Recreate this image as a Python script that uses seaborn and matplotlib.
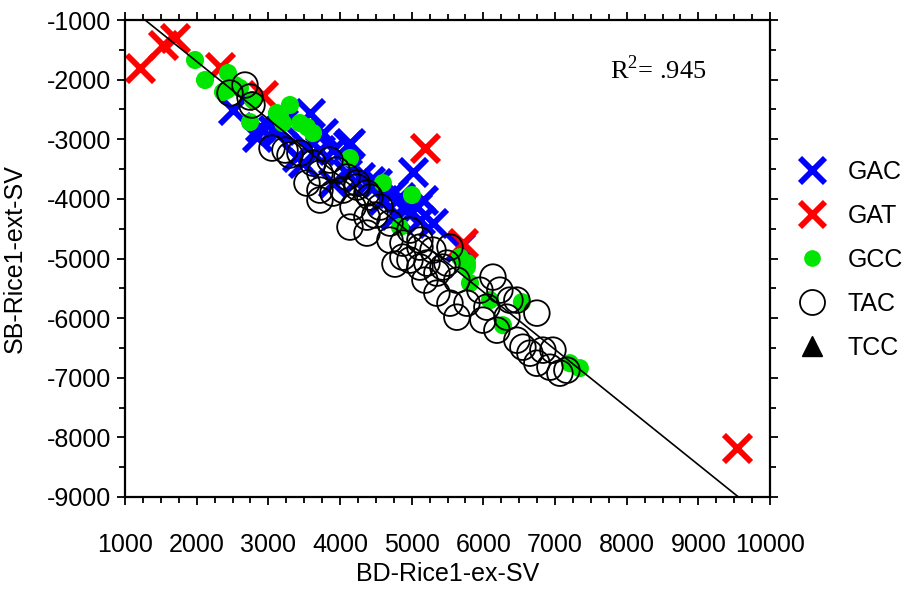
import numpy as np
import pandas as pd
import matplotlib
matplotlib.use("Agg")
import matplotlib.pyplot as plt
from matplotlib.lines import Line2D
from matplotlib.ticker import MultipleLocator
import seaborn as sns

# ---- data ----
gac_x = [2507, 2841, 2883, 3065, 3204, 3581, 3762, 3399, 3483, 3539, 3902, 4111, 4139,
         4097, 4278, 3902, 4515, 4599, 4739, 4836, 5018, 5073, 5157, 5115, 5297, 5673,
         3162, 3720, 4418, 4906, 4767]
gac_y = [-2510, -2963, -2795, -2846, -2728, -2561, -2896, -3299, -3400, -3131, -3181, -3098, -3064,
         -3567, -3634, -3735, -3735, -4020, -3903, -3970, -3551, -4138, -4020, -4356, -4406, -4809,
         -2846, -3181, -3700, -4188, -4272]

gat_x = [1209, 1530, 1698, 2325, 2925, 5185, 5715, 9537]
gat_y = [-1805, -1420, -1302, -1789, -2259, -3148, -4742, -8182]

gcc_x = [1977, 2116, 2437, 2367, 2535, 2604, 2423, 2744, 2786, 3120, 3302, 3204, 3162, 3441,
         3539, 3623, 4139, 4599, 5004, 4836, 5673, 5771, 5813, 6092, 6538, 6273, 7208, 7347, 5771]
gcc_y = [-1671, -2007, -1889, -2208, -2091, -2141, -2175, -2712, -2342, -2561, -2426, -2728, -2628, -2728,
         -2795, -2896, -3316, -3735, -3936, -4473, -4977, -5077, -5413, -5698, -5732, -6118, -6756, -6839, -5144]

tac_x = [2465, 2674, 2772, 2744, 3051, 3232, 3441, 3623, 3720, 3957, 4097, 3720, 3902, 4236,
         4418, 4181, 4557, 3539, 3720, 4236, 4376, 4376, 4697, 4976, 4878, 5115, 5297, 5534,
         4976, 5213, 5436, 4376, 4139, 5115, 4878, 5115, 5352, 5492, 5631, 5352, 5534, 5771,
         5952, 6134, 6231, 6371, 6050, 6329, 5631, 6468, 6747, 5994, 6189, 6468, 6552, 6650,
         6831, 6971, 6747, 6929, 7166, 7068, 3860, 3302, 4041, 4487, 4697, 4767, 5185]
tac_y = [-2225, -2091, -2426, -2292, -3148, -3181, -3232, -3400, -3567, -3517, -3634, -3853, -3903, -3802,
         -3970, -4138, -4138, -3735, -4020, -3735, -3903, -4306, -4406, -4524, -4742, -4809, -4859, -4809,
         -5027, -5077, -5144, -4574, -4473, -4692, -4977, -5144, -5245, -5077, -5363, -5581, -5749, -5749,
         -5531, -5312, -5531, -5698, -5816, -5984, -5984, -5698, -5916, -6034, -6202, -6370, -6487, -6588,
         -6537, -6537, -6756, -6823, -6873, -6923, -3349, -3265, -3853, -4272, -4692, -5094, -5363]

tcc_x = []
tcc_y = []

fit_x = [1280, 9560]
fit_y = [-1000, -9000]

x_ticks = [1000, 2000, 3000, 4000, 5000, 6000, 7000, 8000, 9000, 10000]
y_ticks = [-9000, -8000, -7000, -6000, -5000, -4000, -3000, -2000, -1000]
r2_text = r"R$^{\mathrm{2}}$= .945"

# ---- style ----
sns.set_theme(style="ticks")
plt.rcParams['font.family'] = ['Liberation Sans', 'DejaVu Sans']
plt.rcParams['mathtext.fontset'] = 'custom'
plt.rcParams['mathtext.rm'] = 'Liberation Serif'
plt.rcParams['text.color'] = 'black'
plt.rcParams['axes.labelcolor'] = 'black'
plt.rcParams['xtick.color'] = 'black'
plt.rcParams['ytick.color'] = 'black'

fig = plt.figure(figsize=(9.09, 5.89), dpi=100)
ax = fig.add_axes([125 / 909, 1 - 497 / 589, 645 / 909, 477 / 589])

sns.lineplot(x=fit_x, y=fit_y, ax=ax, color="black", linewidth=1.2)

sns.scatterplot(x=gac_x, y=gac_y, ax=ax, marker="x", s=380, color="#0000ff", linewidth=4.2)
sns.scatterplot(x=gat_x, y=gat_y, ax=ax, marker="x", s=380, color="#ff0000", linewidth=4.2)
sns.scatterplot(x=gcc_x, y=gcc_y, ax=ax, marker="o", s=170, color="#00e600", edgecolor="none")
sns.scatterplot(x=tac_x, y=tac_y, ax=ax, marker="o", s=340, facecolor="none",
                edgecolor="black", linewidth=1.3)
if len(tcc_x):
    sns.scatterplot(x=tcc_x, y=tcc_y, ax=ax, marker="^", s=150, color="black")

ax.set_xlim(1000, 10000)
ax.set_ylim(-9000, -1000)
ax.set_xticks(x_ticks)
ax.set_yticks(y_ticks)
ax.set_xticklabels([str(v) for v in x_ticks])
ax.set_yticklabels([str(v) for v in y_ticks])
ax.xaxis.set_minor_locator(MultipleLocator(250))
ax.yaxis.set_minor_locator(MultipleLocator(500))

for sp in ax.spines.values():
    sp.set_visible(True)
    sp.set_linewidth(1.6)
    sp.set_color("black")

ax.tick_params(axis="both", which="both", direction="out", top=True, right=True,
               color="black", width=1.3, labelcolor="black")
ax.tick_params(axis="both", which="major", length=6, labelsize=18)
ax.tick_params(axis="both", which="minor", length=4)
ax.tick_params(axis="x", which="major", pad=20)
ax.tick_params(axis="y", which="major", pad=4)

ax.set_xlabel("BD-Rice1-ex-SV", fontsize=18)
ax.set_ylabel("SB-Rice1-ext-SV", fontsize=18)
ax.xaxis.set_label_coords(0.5, -0.136)
ax.yaxis.set_label_coords(-0.152, 0.5)

ax.text(0.752, 0.895, r2_text, transform=ax.transAxes, ha="left", va="center",
        fontsize=19, family=["Liberation Serif", "DejaVu Serif"])

handles = [
    Line2D([], [], linestyle="none", marker="x", markersize=18, markeredgewidth=4.2, color="#0000ff"),
    Line2D([], [], linestyle="none", marker="x", markersize=18, markeredgewidth=4.2, color="#ff0000"),
    Line2D([], [], linestyle="none", marker="o", markersize=12, markeredgewidth=0, color="#00e600"),
    Line2D([], [], linestyle="none", marker="o", markersize=18, markerfacecolor="none",
           markeredgecolor="black", markeredgewidth=1.3),
    Line2D([], [], linestyle="none", marker="^", markersize=14, color="black"),
]
labels = ["GAC", "GAT", "GCC", "TAC", "TCC"]
fig.legend(handles, labels, loc="upper left", bbox_to_anchor=(799.5 / 909, 1 - 160 / 589),
           frameon=False, fontsize=18, handlelength=1.0, handletextpad=0.94,
           labelspacing=0.8, borderpad=0, borderaxespad=0)

fig.savefig("out.png", dpi=100)
